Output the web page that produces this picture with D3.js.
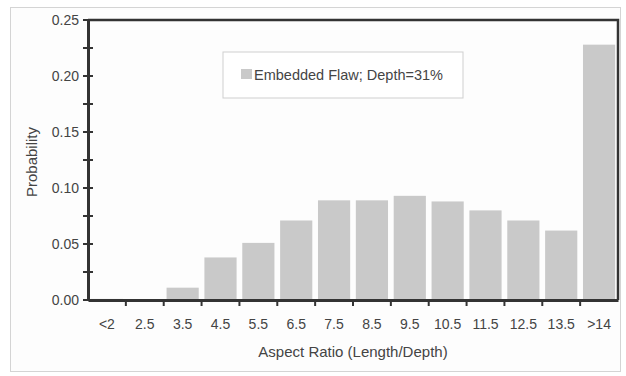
<!DOCTYPE html>
<html>
<head>
<meta charset="utf-8">
<script src="https://cdn.jsdelivr.net/npm/d3@7"></script>
<style>
  body { margin: 0; background: #fff; }
  text { font-family: "Liberation Sans", Arial, sans-serif; fill: #444; }
</style>
</head>
<body>
<div id="chart"></div>
<script>
// categories (aspect ratio bins) and probabilities
var categories = ["<2", "2.5", "3.5", "4.5", "5.5", "6.5", "7.5", "8.5", "9.5", "10.5", "11.5", "12.5", "13.5", ">14"];
var probability = [0.001, 0, 0.011, 0.038, 0.051, 0.071, 0.089, 0.089, 0.093, 0.088, 0.080, 0.071, 0.062, 0.228];
var yTicks = [0, 0.05, 0.10, 0.15, 0.20, 0.25];
var yMinorTicks = [0.025, 0.075, 0.125, 0.175, 0.225];
var seriesName = "Embedded Flaw; Depth=31%";

var W = 626, H = 376;
var margin = {top: 20, right: 8, bottom: 76, left: 88},
    width = W - margin.left - margin.right,
    height = H - margin.top - margin.bottom;

var data = categories.map(function (c, i) { return {cat: c, p: probability[i]}; });

var svg = d3.select("#chart")
  .append("svg")
    .attr("width", W)
    .attr("height", H);

// outer frame
svg.append("rect")
  .attr("x", 10.5).attr("y", 7.5)
  .attr("width", 610).attr("height", 364)
  .attr("fill", "#fdfdfd")
  .attr("stroke", "#d4d4d4");

var g = svg.append("g")
  .attr("transform", "translate(" + margin.left + "," + margin.top + ")");

var x = d3.scaleBand()
  .domain(categories)
  .range([0, width])
  .paddingInner(0.15)
  .paddingOuter(0.075);

var y = d3.scaleLinear()
  .domain([0, 0.25])
  .range([height, 0]);

// bars
g.append("g")
  .selectAll("rect")
  .data(data)
  .enter()
  .append("rect")
    .attr("x", function (d) { return x(d.cat); })
    .attr("y", function (d) { return y(d.p); })
    .attr("width", x.bandwidth())
    .attr("height", function (d) { return height - y(d.p); })
    .attr("fill", "#c9c9c9");

// frame top/right
g.append("path")
  .attr("d", "M0,0H" + width + "V" + height)
  .attr("fill", "none")
  .attr("stroke", "#333")
  .attr("stroke-width", 2.5);

// y axis
var yAxis = g.append("g")
  .call(d3.axisLeft(y).tickValues(yTicks).tickFormat(d3.format(".2f")).tickSize(0).tickPadding(9));
yAxis.select(".domain").attr("stroke", "#333").attr("stroke-width", 3);
yAxis.selectAll("text").attr("font-size", 14).attr("fill", "#4a4a4a");

// cross ticks on y axis (major and minor)
g.append("g")
  .selectAll("line")
  .data(yTicks.concat(yMinorTicks))
  .enter()
  .append("line")
    .attr("x1", -5).attr("x2", 5)
    .attr("y1", function (d) { return y(d); })
    .attr("y2", function (d) { return y(d); })
    .attr("stroke", "#333")
    .attr("stroke-width", 2);

// x axis
var xAxis = g.append("g")
  .attr("transform", "translate(0," + height + ")")
  .call(d3.axisBottom(x).tickSize(0).tickPadding(19));
xAxis.select(".domain").attr("stroke", "#333").attr("stroke-width", 3);
xAxis.selectAll("text").attr("font-size", 14).attr("fill", "#4a4a4a");

// x ticks at category boundaries
var step = x.step();
g.append("g")
  .selectAll("line")
  .data(categories.slice(1))
  .enter()
  .append("line")
    .attr("x1", function (d) { return x(d) - step * 0.075; })
    .attr("x2", function (d) { return x(d) - step * 0.075; })
    .attr("y1", height)
    .attr("y2", height + 6)
    .attr("stroke", "#333")
    .attr("stroke-width", 2);

// axis labels
g.append("text")
  .attr("x", width / 2)
  .attr("y", height + 57)
  .attr("text-anchor", "middle")
  .attr("font-size", 15)
  .text("Aspect Ratio (Length/Depth)");

g.append("text")
  .attr("transform", "rotate(-90)")
  .attr("x", -height / 2 - 2)
  .attr("y", -margin.left + 37)
  .attr("text-anchor", "middle")
  .attr("font-size", 15)
  .text("Probability");

// legend
var lg = g.append("g").attr("transform", "translate(135,32)");
lg.append("rect")
  .attr("width", 240).attr("height", 46)
  .attr("fill", "#fff")
  .attr("stroke", "#cfcfcf");
lg.append("rect")
  .attr("x", 18).attr("y", 17)
  .attr("width", 11).attr("height", 10)
  .attr("fill", "#c9c9c9");
lg.append("text")
  .attr("x", 31).attr("y", 28)
  .attr("font-size", 14.5)
  .text(seriesName);
</script>
</body>
</html>
